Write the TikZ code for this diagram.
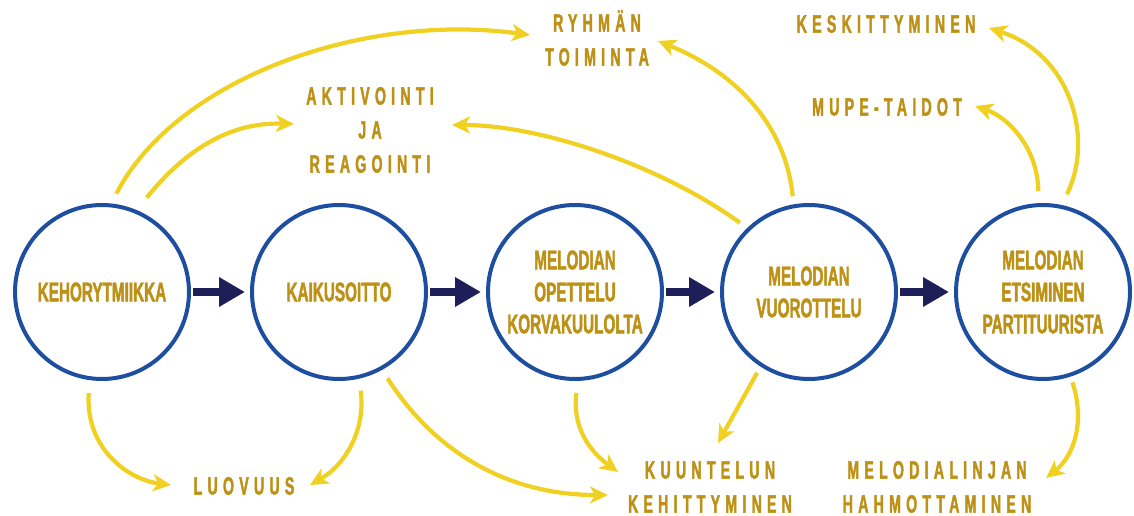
\documentclass[tikz,border=0pt]{standalone}
\usepackage{fontspec}
\usetikzlibrary{arrows.meta}

% condensed heavy face for all lettering
\newfontfamily\circfont[FakeStretch=0.566,FakeBold=1.6]{Liberation Sans}
\newfontfamily\tagfont[FakeStretch=0.566,FakeBold=1.6,LetterSpace=21]{Liberation Sans}

\definecolor{gold}{RGB}{189,145,22}
\definecolor{sun}{RGB}{240,208,32}
\definecolor{ring}{RGB}{30,78,160}
\definecolor{navy}{RGB}{30,30,88}

\tikzset{
  stage/.style={circle, draw=ring, line width=4pt, minimum size=174pt,
    inner sep=0pt, text=gold, align=center,
    font={\circfont\bfseries\fontsize{27}{32}\selectfont}},
  tag/.style={text=gold, align=center, inner sep=0pt,
    font={\tagfont\bfseries\fontsize{25}{34}\selectfont}},
  flow/.style={draw=navy, line width=8pt,
    -{Triangle[length=26pt,width=28pt]}, shorten <=2pt, shorten >=5pt},
  link/.style={draw=sun, line width=4.2pt,
    -{Stealth[length=18pt,width=17pt,inset=5pt]}}
}

\begin{document}
\begin{tikzpicture}[x=1pt,y=-1pt]
\useasboundingbox (0,0) rectangle (1134,516);

% the five stages
\node[stage] (c1) at (102,292) {KEHORYTMIIKKA};
\node[stage] (c2) at (339,292) {KAIKUSOITTO};
\node[stage] (c3) at (575,292) {MELODIAN\\OPETTELU\\KORVAKUULOLTA};
\node[stage] (c4) at (809,292) {MELODIAN\\VUOROTTELU};
\node[stage] (c5) at (1043,292) {MELODIAN\\ETSIMINEN\\PARTITUURISTA};

% outcomes
\node[tag] (ryh) at (597,38)  {RYHMÄN\\TOIMINTA};
\node[tag] (akt) at (370,130) {AKTIVOINTI\\JA\\REAGOINTI};
\node[tag] (kes) at (886,24)  {KESKITTYMINEN};
\node[tag] (mup) at (887,107) {MUPE-TAIDOT};
\node[tag] (luo) at (244,486) {LUOVUUS};
\node[tag] (kuu) at (710,487) {KUUNTELUN\\KEHITTYMINEN};
\node[tag] (mel) at (937,487) {MELODIALINJAN\\HAHMOTTAMINEN};

% arrow ends beside the outcome texts
\coordinate (e1)  at (530,35);
\coordinate (e2)  at (294,124);
\coordinate (e3)  at (452,125);
\coordinate (e4)  at (658,41);
\coordinate (e5)  at (975,106);
\coordinate (e6)  at (989,28);
\coordinate (e7)  at (171,485);
\coordinate (e8)  at (310,485);
\coordinate (e9)  at (608,495);
\coordinate (e10) at (618,472);
\coordinate (e11) at (718,443);
\coordinate (e12) at (1046,478);

% main sequence
\draw[flow] (c1) -- (c2);
\draw[flow] (c2) -- (c3);
\draw[flow] (c3) -- (c4);
\draw[flow] (c4) -- (c5);

% stage -> outcome links
\draw[link, shorten <=11pt] (c1.84) .. controls (175,80) and (360,12) .. (e1);
\draw[link, shorten <=16pt] (c1.67.6) .. controls (185,150) and (230,122) .. (e2);
\draw[link, shorten <=9pt] (c4.134.6) .. controls (660,165) and (540,125) .. (e3);
\draw[link, shorten <=8pt] (c4.100.7) .. controls (785,120) and (730,70) .. (e4);
\draw[link, shorten <=12pt] (c5.93.4) .. controls (1038,150) and (1010,118) .. (e5);
\draw[link, shorten <=12pt] (c5.78.6) .. controls (1094,140) and (1072,55) .. (e6);
\draw[link, shorten <=13pt] (c1.262.7) .. controls (85,450) and (130,480) .. (e7);
\draw[link, shorten <=12pt] (c2.283.2) .. controls (366,430) and (345,465) .. (e8);
\draw[link, shorten <=10pt] (c2.299.7) .. controls (430,445) and (500,495) .. (e9);
\draw[link, shorten <=12pt] (c3.272.8) .. controls (572,425) and (588,450) .. (e10);
\draw[link, shorten <=7pt] (c4.237.8) -- (e11);
\draw[link, shorten <=6pt] (c5.288.4) .. controls (1085,420) and (1075,455) .. (e12);
\end{tikzpicture}
\end{document}
